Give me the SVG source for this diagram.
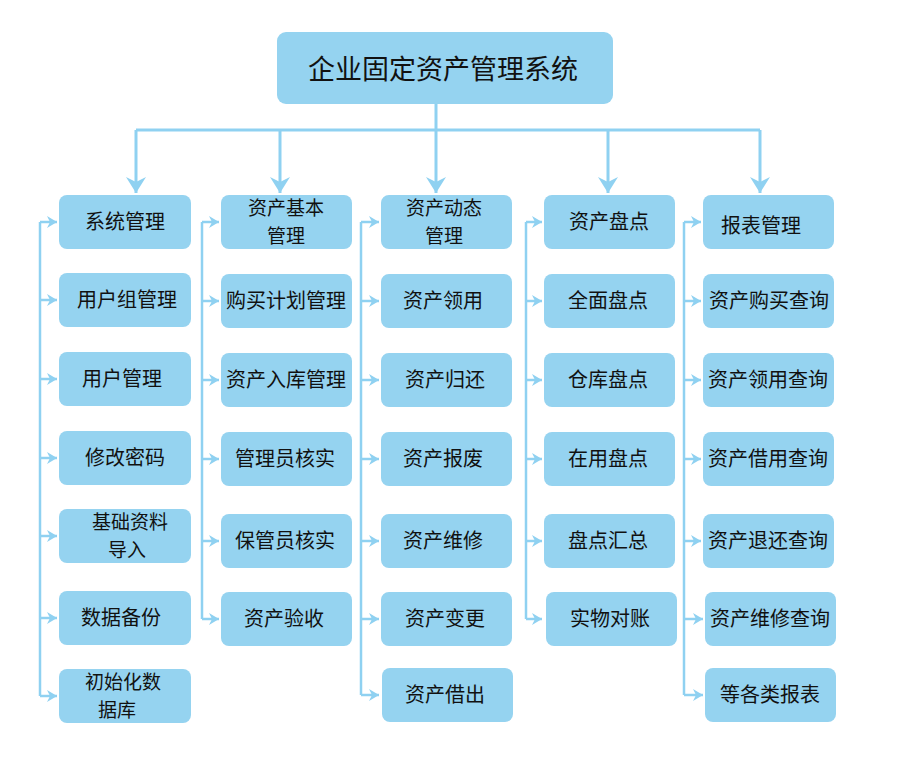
<svg xmlns="http://www.w3.org/2000/svg" width="900" height="765" viewBox="0 0 900 765">
<style>
.b{fill:#95d3f0}
.t{font-family:"Microsoft YaHei","Noto Sans CJK SC",sans-serif;font-size:20px;fill:#111;text-anchor:middle}
.tt{font-size:27px}
.t2{font-size:19px}
.c{fill:none;stroke:#8fd1f1;stroke-width:3}
.s{fill:none;stroke:#8fd1f1;stroke-width:2.5}
</style>
<defs>
<marker id="ad" markerUnits="userSpaceOnUse" viewBox="0 0 16 20" markerWidth="16" markerHeight="20" refX="16" refY="10" orient="auto"><path d="M0,0 L16,10 L0,20 L5,10 z" fill="#8fd1f1"/></marker>
<marker id="ah" markerUnits="userSpaceOnUse" viewBox="0 0 10 12" markerWidth="10" markerHeight="12" refX="10" refY="6" orient="auto"><path d="M0,0 L10,6 L0,12 L3,6 z" fill="#8fd1f1"/></marker>
</defs>
<rect width="900" height="765" fill="#fff"/>
<g id="connectors">
<path class="c" d="M436,104 V130"/>
<path class="c" d="M136,130 H760"/>
<path class="c" d="M136,130 V193" marker-end="url(#ad)"/>
<path class="c" d="M280,130 V193" marker-end="url(#ad)"/>
<path class="c" d="M436,130 V193" marker-end="url(#ad)"/>
<path class="c" d="M608,130 V193" marker-end="url(#ad)"/>
<path class="c" d="M760,130 V193" marker-end="url(#ad)"/>
<path class="s" d="M40,222 V696"/>
<path class="s" d="M40,222 H57" marker-end="url(#ah)"/>
<path class="s" d="M40,300 H57" marker-end="url(#ah)"/>
<path class="s" d="M40,379 H57" marker-end="url(#ah)"/>
<path class="s" d="M40,458 H57" marker-end="url(#ah)"/>
<path class="s" d="M40,536 H57" marker-end="url(#ah)"/>
<path class="s" d="M40,618 H57" marker-end="url(#ah)"/>
<path class="s" d="M40,696 H57" marker-end="url(#ah)"/>
<path class="s" d="M202,222 V619"/>
<path class="s" d="M202,222 H219" marker-end="url(#ah)"/>
<path class="s" d="M202,301 H219" marker-end="url(#ah)"/>
<path class="s" d="M202,380 H219" marker-end="url(#ah)"/>
<path class="s" d="M202,459 H219" marker-end="url(#ah)"/>
<path class="s" d="M202,541 H219" marker-end="url(#ah)"/>
<path class="s" d="M202,619 H219" marker-end="url(#ah)"/>
<path class="s" d="M361,222 V695"/>
<path class="s" d="M361,222 H379" marker-end="url(#ah)"/>
<path class="s" d="M361,301 H379" marker-end="url(#ah)"/>
<path class="s" d="M361,380 H379" marker-end="url(#ah)"/>
<path class="s" d="M361,459 H379" marker-end="url(#ah)"/>
<path class="s" d="M361,541 H379" marker-end="url(#ah)"/>
<path class="s" d="M361,619 H379" marker-end="url(#ah)"/>
<path class="s" d="M361,695 H379" marker-end="url(#ah)"/>
<path class="s" d="M526,222 V619"/>
<path class="s" d="M526,222 H542" marker-end="url(#ah)"/>
<path class="s" d="M526,301 H542" marker-end="url(#ah)"/>
<path class="s" d="M526,380 H542" marker-end="url(#ah)"/>
<path class="s" d="M526,459 H542" marker-end="url(#ah)"/>
<path class="s" d="M526,541 H542" marker-end="url(#ah)"/>
<path class="s" d="M526,619 H542" marker-end="url(#ah)"/>
<path class="s" d="M684,222 V695"/>
<path class="s" d="M684,222 H701" marker-end="url(#ah)"/>
<path class="s" d="M684,301 H701" marker-end="url(#ah)"/>
<path class="s" d="M684,380 H701" marker-end="url(#ah)"/>
<path class="s" d="M684,459 H701" marker-end="url(#ah)"/>
<path class="s" d="M684,541 H701" marker-end="url(#ah)"/>
<path class="s" d="M684,619 H703" marker-end="url(#ah)"/>
<path class="s" d="M684,695 H703" marker-end="url(#ah)"/>
</g>
<g id="root"><rect class="b" x="277" y="32" width="336" height="72" rx="9"/><text class="t tt" x="443" y="79">企业固定资产管理系统</text></g>

<g id="n1_0"><rect class="b" x="59" y="195" width="132" height="54" rx="8"/><text class="t" x="125" y="229">系统管理</text></g>
<g id="n1_1"><rect class="b" x="59" y="273" width="132" height="54" rx="8"/><text class="t" x="127" y="307">用户组管理</text></g>
<g id="n1_2"><rect class="b" x="59" y="352" width="132" height="54" rx="8"/><text class="t" x="122" y="386">用户管理</text></g>
<g id="n1_3"><rect class="b" x="59" y="431" width="132" height="54" rx="8"/><text class="t" x="125" y="465">修改密码</text></g>
<g id="n1_4"><rect class="b" x="59" y="509" width="132" height="54" rx="8"/><text class="t t2" x="130" y="529">基础资料<tspan x="127" dy="28">导入</tspan></text></g>
<g id="n1_5"><rect class="b" x="59" y="591" width="132" height="54" rx="8"/><text class="t" x="121" y="625">数据备份</text></g>
<g id="n1_6"><rect class="b" x="59" y="669" width="132" height="54" rx="8"/><text class="t t2" x="123" y="689">初始化数<tspan x="117" dy="28">据库</tspan></text></g>

<g id="n2_0"><rect class="b" x="221" y="195" width="131" height="54" rx="8"/><text class="t t2" x="286" y="215">资产基本<tspan x="286" dy="28">管理</tspan></text></g>
<g id="n2_1"><rect class="b" x="221" y="274" width="131" height="54" rx="8"/><text class="t" x="286" y="308">购买计划管理</text></g>
<g id="n2_2"><rect class="b" x="221" y="353" width="131" height="54" rx="8"/><text class="t" x="286" y="387">资产入库管理</text></g>
<g id="n2_3"><rect class="b" x="221" y="432" width="131" height="54" rx="8"/><text class="t" x="285" y="466">管理员核实</text></g>
<g id="n2_4"><rect class="b" x="221" y="514" width="131" height="54" rx="8"/><text class="t" x="285" y="548">保管员核实</text></g>
<g id="n2_5"><rect class="b" x="221" y="592" width="131" height="54" rx="8"/><text class="t" x="284" y="626">资产验收</text></g>

<g id="n3_0"><rect class="b" x="381" y="195" width="131" height="54" rx="8"/><text class="t t2" x="444" y="215">资产动态<tspan x="444" dy="28">管理</tspan></text></g>
<g id="n3_1"><rect class="b" x="381" y="274" width="131" height="54" rx="8"/><text class="t" x="443" y="308">资产领用</text></g>
<g id="n3_2"><rect class="b" x="381" y="353" width="131" height="54" rx="8"/><text class="t" x="445" y="387">资产归还</text></g>
<g id="n3_3"><rect class="b" x="381" y="432" width="131" height="54" rx="8"/><text class="t" x="443" y="466">资产报废</text></g>
<g id="n3_4"><rect class="b" x="381" y="514" width="131" height="54" rx="8"/><text class="t" x="443" y="548">资产维修</text></g>
<g id="n3_5"><rect class="b" x="381" y="592" width="131" height="54" rx="8"/><text class="t" x="445" y="626">资产变更</text></g>
<g id="n3_6"><rect class="b" x="382" y="668" width="131" height="54" rx="8"/><text class="t" x="445" y="702">资产借出</text></g>

<g id="n4_0"><rect class="b" x="544" y="195" width="131" height="54" rx="8"/><text class="t" x="609" y="229">资产盘点</text></g>
<g id="n4_1"><rect class="b" x="544" y="274" width="131" height="54" rx="8"/><text class="t" x="608" y="308">全面盘点</text></g>
<g id="n4_2"><rect class="b" x="544" y="353" width="131" height="54" rx="8"/><text class="t" x="608" y="387">仓库盘点</text></g>
<g id="n4_3"><rect class="b" x="544" y="432" width="131" height="54" rx="8"/><text class="t" x="608" y="466">在用盘点</text></g>
<g id="n4_4"><rect class="b" x="544" y="514" width="131" height="54" rx="8"/><text class="t" x="608" y="548">盘点汇总</text></g>
<g id="n4_5"><rect class="b" x="546" y="592" width="131" height="54" rx="8"/><text class="t" x="610" y="626">实物对账</text></g>

<g id="n5_0"><rect class="b" x="703" y="195" width="131" height="54" rx="8"/><text class="t" x="761" y="233">报表管理</text></g>
<g id="n5_1"><rect class="b" x="703" y="274" width="131" height="54" rx="8"/><text class="t" x="769" y="308">资产购买查询</text></g>
<g id="n5_2"><rect class="b" x="703" y="353" width="131" height="54" rx="8"/><text class="t" x="768" y="387">资产领用查询</text></g>
<g id="n5_3"><rect class="b" x="703" y="432" width="131" height="54" rx="8"/><text class="t" x="768" y="466">资产借用查询</text></g>
<g id="n5_4"><rect class="b" x="703" y="514" width="131" height="54" rx="8"/><text class="t" x="768" y="548">资产退还查询</text></g>
<g id="n5_5"><rect class="b" x="705" y="592" width="131" height="54" rx="8"/><text class="t" x="770" y="626">资产维修查询</text></g>
<g id="n5_6"><rect class="b" x="705" y="668" width="131" height="54" rx="8"/><text class="t" x="770" y="702">等各类报表</text></g>
</svg>
